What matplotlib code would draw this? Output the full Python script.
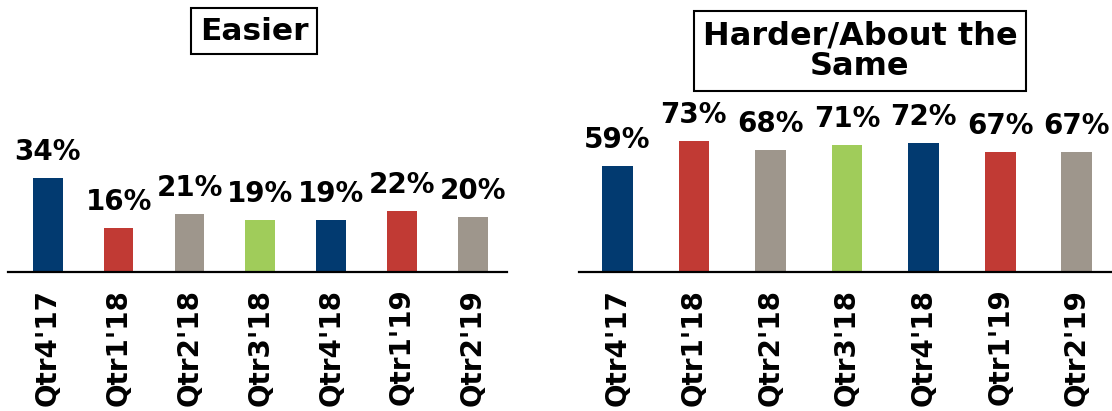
"""
Easier vs Harder/About the Same, by quarter
"""
import matplotlib
matplotlib.use('Agg')
import matplotlib.pyplot as plt

plt.rcParams['font.family'] = ['DejaVu Sans']
plt.rcParams['font.weight'] = 'bold'

# 数据
quarters = ["Qtr4'17", "Qtr1'18", "Qtr2'18", "Qtr3'18", "Qtr4'18", "Qtr1'19", "Qtr2'19"]
easier = [34, 16, 21, 19, 19, 22, 20]
harder = [59, 73, 68, 71, 72, 67, 67]
bar_colors = ['#023A70', '#C13A34', '#9E968C', '#A0CC5A', '#023A70', '#C13A34', '#9E968C']

W, H = 1112, 411
fig = plt.figure(figsize=(W / 100, H / 100), dpi=100)

base = 272  # 底线像素位置
top = 100


def make_axes(x0, x1):
    return fig.add_axes([x0 / W, (H - base) / H, (x1 - x0) / W, (base - top) / H])


def draw_panel(ax, values, ymax, width, xlim):
    x = range(len(quarters))
    ax.bar(x, values, width=width, color=bar_colors)
    for xi, v in zip(x, values):
        ax.annotate(f"{v}%", (xi, v), xytext=(0, 26), textcoords='offset pixels',
                    ha='center', va='center', fontsize=20, fontweight='bold')
    ax.set_xlim(*xlim)
    ax.set_ylim(0, ymax)
    ax.set_xticks(list(x))
    ax.set_xticklabels(quarters, rotation=90, fontsize=20, fontweight='bold')
    ax.tick_params(axis='x', length=0, pad=12)
    ax.set_yticks([])
    for s in ['left', 'right', 'top']:
        ax.spines[s].set_visible(False)
    ax.spines['bottom'].set_linewidth(1.6)
    ax.patch.set_alpha(0)


ax1 = make_axes(8, 507)
draw_panel(ax1, easier, (base - top) / 2.76, 0.42, (-0.56, 6.48))

ax2 = make_axes(579, 1112)
draw_panel(ax2, harder, (base - top) / 1.79, 0.40, (-0.5, 6.46))

box = dict(boxstyle='square,pad=0.28', facecolor='white', edgecolor='black', linewidth=1.5)
fig.text(254 / W, 1 - 31 / H, "Easier", ha='center', va='center',
         fontsize=22.5, fontweight='bold', bbox=box)
fig.text(860 / W, 1 - 51 / H, "Harder/About the\nSame", ha='center', va='center',
         fontsize=23, fontweight='bold', linespacing=1.0, bbox=box)

fig.savefig('out.png', dpi=100)
